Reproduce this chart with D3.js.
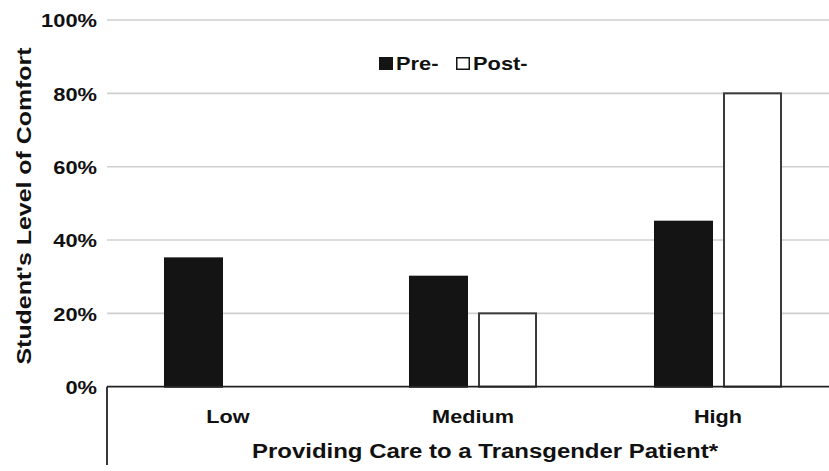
<!DOCTYPE html>
<html>
<head>
<meta charset="utf-8">
<script src="https://cdn.jsdelivr.net/npm/d3@7"></script>
<style>
  html, body { margin: 0; padding: 0; background: #fff; }
  svg { display: block; }
  text { font-family: "Liberation Sans", Arial, sans-serif; font-weight: bold; fill: #111; }
</style>
</head>
<body>
<svg id="chart" width="829" height="471"></svg>
<script>
const categories = ["Low", "Medium", "High"];
const series = ["Pre-", "Post-"];
const preValues = [0.35, 0.30, 0.45];
const postValues = [0, 0.20, 0.80];
const yTicks = [0, 0.2, 0.4, 0.6, 0.8, 1.0];
const yTitle = "Student's Level of Comfort";
const xTitle = "Providing Care to a Transgender Patient*";

const svg = d3.select("#chart");
const W = 829, H = 471;

function stretch(sel, factor) {
  sel.each(function() {
    const L = this.getComputedTextLength();
    d3.select(this).attr("textLength", L * factor).attr("lengthAdjust", "spacingAndGlyphs");
  });
}

const x0 = d3.scaleBand().domain(categories).range([105.5, 840.5]).paddingInner(0).paddingOuter(0);
const x1 = d3.scaleBand().domain(series).range([0, x0.bandwidth()]).paddingInner(0.174).paddingOuter(0.862);
const y = d3.scaleLinear().domain([0, 1]).range([386.7, 20]);

// gridlines
svg.append("g").selectAll("line").data(yTicks.filter(d => d > 0)).join("line")
  .attr("x1", 107).attr("x2", W)
  .attr("y1", d => y(d)).attr("y2", d => y(d))
  .attr("stroke", "#cfcfcf").attr("stroke-width", 1.6);

// y axis labels
const yAxis = d3.axisLeft(y).tickValues(yTicks).tickFormat(d3.format(".0%")).tickSize(0).tickPadding(0);
const ya = svg.append("g").attr("transform", "translate(97,0)").call(yAxis);
ya.select(".domain").remove();
ya.selectAll("text").attr("font-size", 19).attr("font-family", "Liberation Sans, Arial, sans-serif")
  .attr("font-weight", "bold").attr("fill", "#111").attr("dy", "0.36em");
stretch(ya.selectAll("text"), 1.15);

// bars
const rows = categories.map((c, i) => ({ cat: c, vals: [ { s: series[0], v: preValues[i] }, { s: series[1], v: postValues[i] } ] }));
const g = svg.append("g").selectAll("g").data(rows).join("g")
  .attr("transform", d => `translate(${x0(d.cat)},0)`);
g.selectAll("rect").data(d => d.vals.filter(v => v.v > 0)).join("rect")
  .attr("x", d => x1(d.s))
  .attr("width", x1.bandwidth())
  .attr("y", d => y(d.v))
  .attr("height", d => y(0) - y(d.v))
  .attr("fill", d => d.s === series[0] ? "#141414" : "#ffffff")
  .attr("stroke", d => d.s === series[0] ? "#141414" : "#3a3a3a")
  .attr("stroke-width", 2);

// x axis
const xAxis = d3.axisBottom(x0).tickSize(0).tickPadding(0);
const xa = svg.append("g").attr("transform", `translate(0,${y(0)})`).call(xAxis);
xa.select(".domain").remove();
xa.selectAll("text").attr("font-size", 19).attr("font-family", "Liberation Sans, Arial, sans-serif")
  .attr("font-weight", "bold").attr("fill", "#111").attr("dy", null).attr("y", 36);
stretch(xa.selectAll("text"), 1.14);

svg.append("line").attr("x1", 107).attr("x2", W).attr("y1", y(0)).attr("y2", y(0))
  .attr("stroke", "#222").attr("stroke-width", 1.8);
svg.append("line").attr("x1", 107).attr("x2", 107).attr("y1", y(0)).attr("y2", 465)
  .attr("stroke", "#222").attr("stroke-width", 1.8);

// titles
svg.append("text").attr("x", 485).attr("y", 458).attr("text-anchor", "middle")
  .attr("font-size", 20).attr("textLength", 466).attr("lengthAdjust", "spacingAndGlyphs").text(xTitle);
svg.append("text").attr("transform", "translate(31,206) rotate(-90)").attr("text-anchor", "middle")
  .attr("font-size", 20).attr("textLength", 317).attr("lengthAdjust", "spacingAndGlyphs").text(yTitle);

// legend
const leg = svg.append("g").attr("transform", "translate(379,57)");
const legItems = [ { s: series[0], x: 0, fill: "#141414" }, { s: series[1], x: 77, fill: "#fff" } ];
const li = leg.selectAll("g").data(legItems).join("g").attr("transform", d => `translate(${d.x},0)`);
li.append("rect").attr("x", 0.75).attr("y", 0.75).attr("width", 12.5).attr("height", 11.5)
  .attr("fill", d => d.fill).attr("stroke", "#141414").attr("stroke-width", 1.5);
const lt = li.append("text").attr("x", 17).attr("y", 12.5).attr("font-size", 18.5).text(d => d.s);
stretch(lt, 1.18);
</script>
</body>
</html>
